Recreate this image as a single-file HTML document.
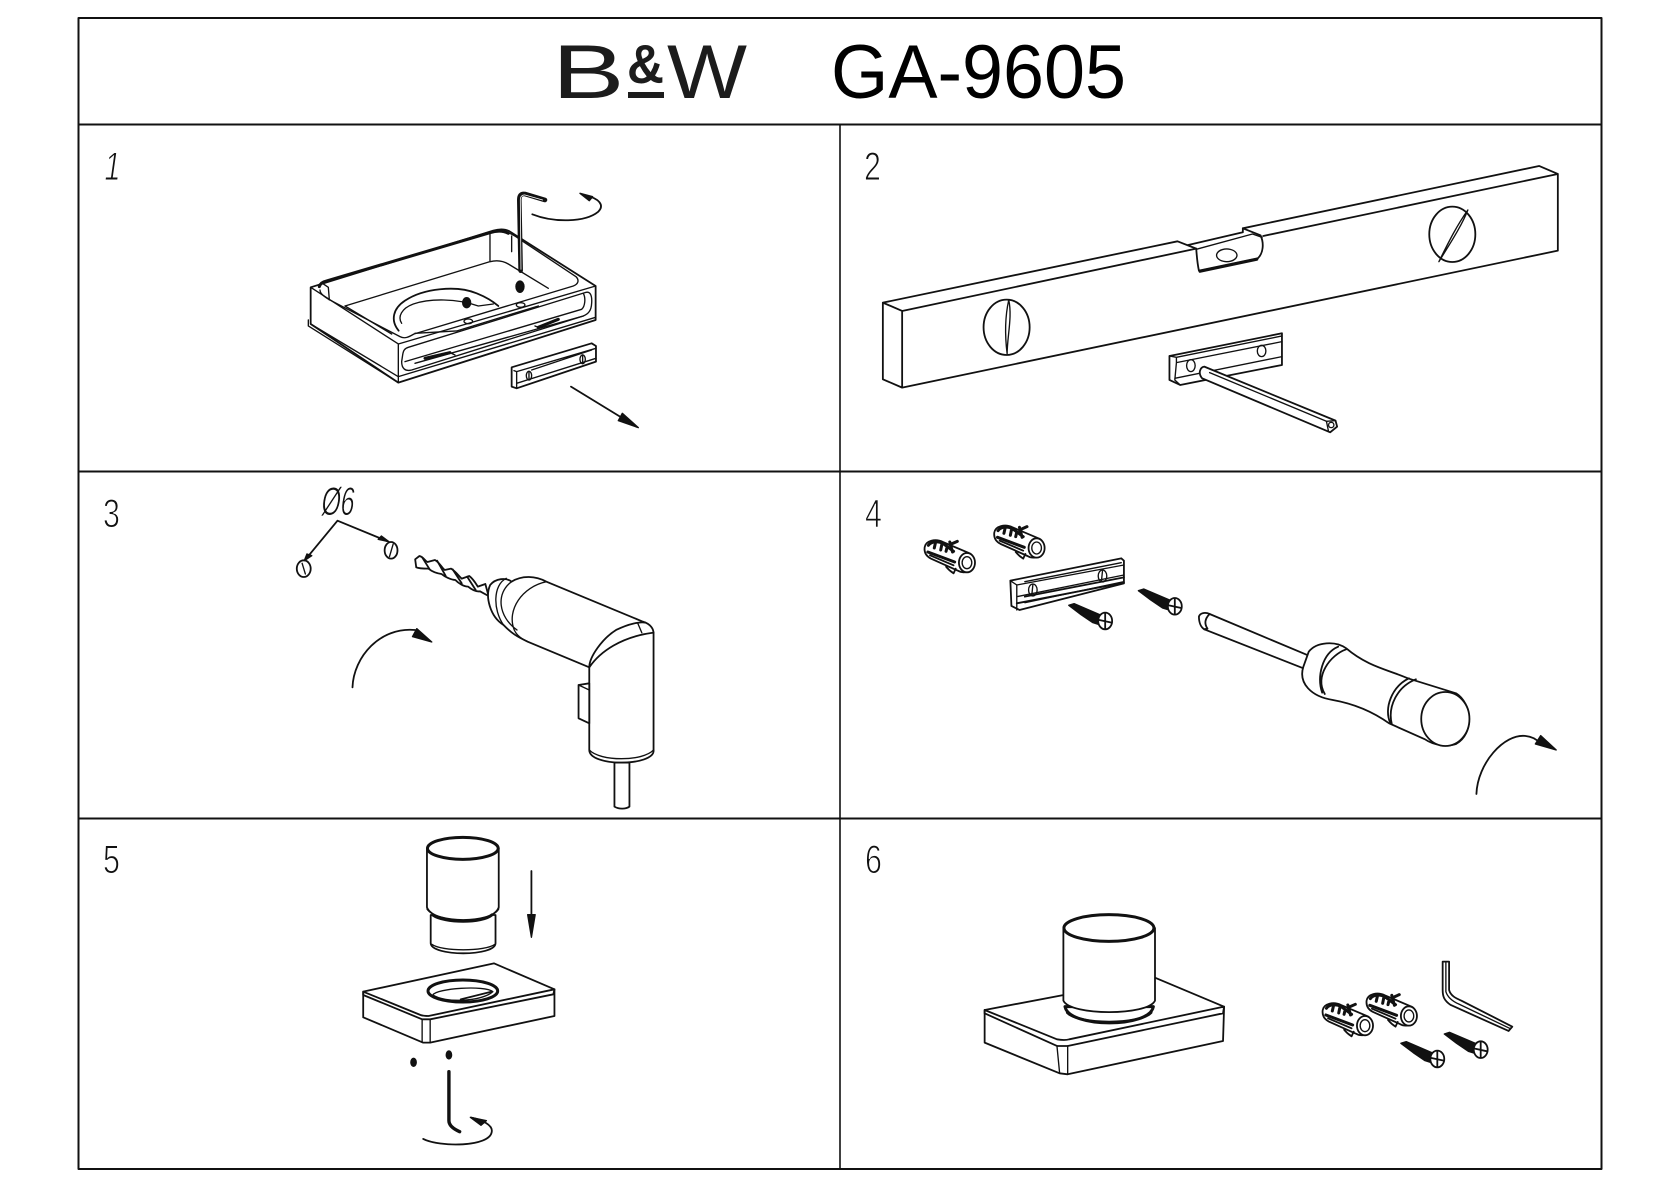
<!DOCTYPE html>
<html><head><meta charset="utf-8"><title>B&amp;W GA-9605</title>
<style>
html,body{margin:0;padding:0;background:#fff}
svg{display:block}
path,line,ellipse,polyline,polygon,rect{vector-effect:non-scaling-stroke;fill:none;stroke:#111;stroke-width:1.35;stroke-linejoin:round;stroke-linecap:round}
.w{fill:#fff}
.k{fill:#111}
.t{stroke-width:3}
.m{stroke-width:1.8}
.f{stroke-width:1.1}
.d{font-family:"Liberation Sans",sans-serif;font-size:40px;fill:#111;stroke:#fff;stroke-width:1.05}
</style></head><body>
<svg xmlns="http://www.w3.org/2000/svg" width="1680" height="1187" viewBox="0 0 1680 1187">
<defs>
<g id="anchor">
<path class="w m" d="M158,232C160,212 178,205 192,216L242,250C255,262 254,298 236,306C230,308 224,306 220,302L170,266C160,258 157,245 158,232Z"/>
<ellipse class="w m" cx="237" cy="278" rx="15" ry="29"/>
<ellipse class="w" cx="237" cy="278" rx="9" ry="18"/>
<path class="t" d="M165,226C170,214 182,212 192,220L212,244M178,220L176,234M190,224L188,240M200,230L198,244M205,216L210,246M205,224L219,214"/>
<path class="t" d="M164,246L214,276"/>
<path class="m" d="M168,256L212,286"/>
<path class="m" d="M198,290C202,298 206,304 212,310L216,296"/>
</g>
<g id="screw">
<polygon class="k" points="427,406 437,401 488,436 488,466 472,458 450,434"/>
<ellipse class="w m" cx="495" cy="453" rx="13" ry="25"/>
<path class="m" d="M495,430L495,476M484,450L507,458"/>
</g>
</defs>

<!-- frame -->
<rect x="78.5" y="18" width="1523" height="1151" style="stroke-width:2"/>
<line x1="78.5" y1="124.5" x2="1601.5" y2="124.5" style="stroke-width:2"/>
<line x1="78.5" y1="471.5" x2="1601.5" y2="471.5" style="stroke-width:2"/>
<line x1="78.5" y1="818.5" x2="1601.5" y2="818.5" style="stroke-width:2"/>
<line x1="840" y1="124.5" x2="840" y2="1169" style="stroke-width:1.6"/>

<!-- title -->
<text transform="translate(552,98) scale(1.43,1)" font-family="Liberation Sans,sans-serif" font-size="76" fill="#1c1c1c">B</text>
<text x="627" y="83" font-family="Liberation Sans,sans-serif" font-weight="700" font-size="55" textLength="37" lengthAdjust="spacingAndGlyphs" fill="#1c1c1c">&amp;</text>
<rect x="628" y="92" width="36" height="6" style="fill:#1c1c1c;stroke:none"/>
<text x="667" y="98" font-family="Liberation Sans,sans-serif" font-size="76" textLength="80" lengthAdjust="spacingAndGlyphs" fill="#1c1c1c">W</text>
<text x="831" y="98" font-family="Liberation Sans,sans-serif" font-size="76" textLength="295" lengthAdjust="spacingAndGlyphs" fill="#000">GA-9605</text>

<!-- step numbers -->
<text class="d" transform="translate(103,180) skewX(-8) scale(.72,1)">1</text>
<text class="d" transform="translate(864,180) scale(.76,1)">2</text>
<text class="d" transform="translate(103,527) scale(.76,1)">3</text>
<text class="d" transform="translate(865,527) scale(.76,1)">4</text>
<text class="d" transform="translate(103,873) scale(.76,1)">5</text>
<text class="d" transform="translate(865,873) scale(.76,1)">6</text>
<text class="d" style="stroke-width:.8;font-size:40px" transform="translate(320,515) skewX(-8) scale(.62,1)">Ø6</text>

<!-- PANEL 1 -->
<g transform="translate(290,180) scale(.3333)">
<path class="w m" d="M62,322L610,152C630,146 645,146 660,155L917,318L917,420L325,608L62,432Z"/>
<path d="M62,322L325,492L917,318M325,492L325,608"/>
<path d="M55,420L55,438L325,608M62,432L325,590L917,412"/>
<path class="t" d="M88,320C90,312 96,306 110,303L600,158C620,152 640,152 655,160"/>
<path d="M90,330C90,340 100,348 116,358L330,470C345,478 358,470 372,462L850,318C866,312 868,300 858,290L700,185C680,172 660,155 640,157"/>
<path d="M100,312L115,322L118,360M165,378L600,245C620,240 640,243 655,252L775,325M165,378L305,462M600,160L600,245M665,168L665,215"/>
<path class="m" d="M326,452C300,420 310,385 345,362C400,325 500,315 560,340C590,352 610,365 625,378"/>
<path d="M335,430C322,410 335,385 370,372C420,355 500,355 565,378L610,372"/>
<path style="stroke-width:4.6" d="M765,60L705,42C692,40 688,48 688,60L692,272"/>
<path style="stroke:#fff;stroke-width:.8" d="M758,60L705,45C696,44 691,50 691,60L693,268"/>
<ellipse class="k" cx="690" cy="320" rx="12" ry="17"/>
<ellipse class="k" cx="530" cy="368" rx="12" ry="15"/>
<ellipse cx="692" cy="375" rx="13" ry="7"/>
<ellipse cx="535" cy="424" rx="13" ry="7"/>
<path d="M338,525C340,510 345,505 355,502L885,338C900,332 907,345 905,370C904,392 895,402 880,408L365,570C345,575 335,565 335,545Z"/>
<path d="M345,545L875,388C885,380 888,355 880,340"/>
<path class="t" d="M405,535L480,518M745,442L805,418"/>
<path d="M375,550L880,408M480,518L495,525M745,442L735,438"/>
<path d="M375,460L500,453L745,378"/>
<polygon class="w m" points="665,562 905,490 918,498 918,545 680,625 665,620"/>
<path d="M672,572L680,575L918,505M680,575L680,625M680,610L918,535M725,570L905,510"/>
<ellipse cx="717" cy="587" rx="8" ry="13"/>
<ellipse cx="878" cy="538" rx="8" ry="13"/>
<path d="M717,574L717,600M878,525L878,551"/>
<line class="m" x1="843" y1="620" x2="1000" y2="716"/>
<polygon class="k" points="1045,743 985,722 997,700"/>
<path class="m" d="M727,103C790,128 885,128 925,95C945,75 925,55 892,48"/>
<polygon class="k" points="870,40 908,50 898,62"/>
</g>

<!-- PANEL 2 -->
<g transform="translate(840,0) scale(.5357,.3333)">
<path class="m" d="M80,908L630,724L665,746M665,746L116,933L80,908L80,1138L116,1163L116,933M116,1163L1340,752L1340,522L790,708M752,685L1305,498L1340,522"/>
<path class="m" d="M650,735L752,697L752,685L785,706C792,730 790,760 780,775L670,812C667,790 666,770 665,746"/>
<path d="M665,748L770,702L788,712"/>
<path class="t" d="M672,814L778,778"/>
<ellipse cx="722" cy="766" rx="19" ry="19" transform="rotate(20 722 766)"/>
<ellipse class="m" cx="311" cy="982" rx="43" ry="83"/>
<path d="M315,900C322,950 312,1010 312,1062C308,1010 308,950 315,900Z"/>
<ellipse class="m" cx="1143" cy="703" rx="43" ry="83"/>
<path d="M1172,630C1160,680 1135,740 1118,785C1135,730 1150,680 1172,630Z"/>
<path class="w m" d="M615,1068L825,1000L825,1095L635,1155L615,1140Z"/>
<path d="M628,1072L628,1088L825,1025M615,1068L628,1072L825,1008M625,1135L825,1070M628,1088L625,1140L635,1155"/>
<ellipse cx="655" cy="1097" rx="8" ry="18"/>
<ellipse cx="787" cy="1053" rx="8" ry="17"/>
<path class="w m" d="M680,1100L925,1262L928,1280L915,1297L676,1135C668,1120 672,1102 680,1100Z"/>
<path d="M690,1118L908,1264L912,1295"/>
<path d="M908,1264L925,1262"/>
<ellipse cx="917" cy="1275" rx="5" ry="8"/>
</g>

<!-- PANEL 3 -->
<g transform="translate(0,470) scale(.5357,.3333)">
<path class="m" d="M572,265L630,152L722,213"/>
<polygon class="k" points="568,272 573,252 582,257"/>
<polygon class="k" points="726,215 706,208 712,198"/>
<ellipse class="m" cx="567" cy="296" rx="13" ry="25"/>
<ellipse class="m" cx="730" cy="241" rx="12" ry="25"/>
<path d="M564,280L570,312M734,222L727,260"/>
<path class="w m" d="M775,268L783,258C792,262 792,272 798,276L812,270C822,280 824,292 830,300L842,296C852,306 856,318 862,326L876,318C884,328 888,340 892,350L906,342L912,378L896,364C888,366 880,358 874,350C866,350 856,340 850,330C842,330 830,320 824,312C816,310 806,304 800,296C792,296 782,296 777,292Z"/>
<path class="m" d="M788,262L802,298M816,272L832,318M845,298L862,340M872,320L888,360"/>
<path class="w m" d="M915,345C925,325 945,322 955,335C975,315 1000,318 1020,335L1200,455C1215,462 1220,478 1220,490L1220,840C1222,865 1190,878 1160,878C1130,878 1100,865 1100,840L1100,592L985,515C965,500 955,490 940,465C915,440 905,380 915,345Z"/>
<path d="M955,335C925,370 930,440 965,480M1020,335C975,350 945,420 960,480C965,498 975,508 985,515M945,325C920,345 920,420 940,465"/>
<path class="m" d="M1100,592C1100,560 1125,505 1150,480C1175,460 1195,455 1205,458M1100,592C1120,545 1160,500 1220,488"/>
<path d="M1190,458L1198,488M1220,840C1200,875 1120,875 1100,840"/>
<path class="w m" d="M1100,640L1080,645L1080,745L1100,760Z"/>
<path d="M1080,645L1100,660"/>
<path class="w m" d="M1147,878L1147,1010C1155,1018 1168,1018 1175,1010L1175,878Z"/>
<path class="m" d="M658,652C660,560 710,470 775,480"/>
<polygon class="k" points="806,516 770,500 778,476"/>
</g>

<!-- PANEL 4 -->
<g transform="translate(840,470) scale(.5357,.3333)">
<use href="#anchor"/>
<use href="#anchor" transform="translate(130,-44)"/>
<polygon class="w m" points="318,332 525,265 530,272 530,340 335,420 320,408"/>
<path d="M318,332L330,345L530,285M330,345L330,420M330,380L530,315M345,398L530,335M345,335L525,278"/>
<path class="m" d="M345,380L530,322M330,400L530,338"/>
<ellipse cx="360" cy="360" rx="8" ry="18"/>
<ellipse cx="490" cy="318" rx="8" ry="18"/>
<path d="M360,345L358,376M490,303L488,334"/>
<use href="#screw"/>
<use href="#screw" transform="translate(130,-44)"/>
<path class="m" d="M690,432L872,555M680,478L865,595"/>
<path class="w m" d="M690,432C682,426 672,428 670,440C670,458 674,472 680,478L686,476C680,462 680,448 690,432Z"/>
<path class="w m" d="M875,545C890,515 925,512 945,535C985,590 1025,600 1060,625L1150,670C1180,700 1185,790 1150,822C1135,830 1110,828 1092,808L1025,760C990,720 955,700 920,690C880,680 855,640 865,590Z"/>
<path class="m" d="M945,538C915,555 885,620 905,672M930,530C900,550 890,620 900,668"/>
<path class="m" d="M1062,625C1030,650 1015,715 1027,758M1075,628C1040,650 1022,710 1030,762"/>
<ellipse class="w m" cx="1130" cy="747" rx="45" ry="81"/>
<path class="m" d="M1188,972C1190,880 1240,790 1280,798C1292,800 1300,808 1306,818"/>
<polygon class="k" points="1337,840 1298,822 1308,797"/>
</g>

<!-- PANEL 5 -->
<g transform="translate(0,810) scale(.5357,.3333)">
<path class="w m" d="M804,315L804,400C806,440 924,440 925,400L925,315Z"/>
<path d="M806,403C825,425 905,425 924,403"/>
<path class="w m" d="M797,115L797,292C810,345 920,345 931,292L931,115Z"/>
<path d="M797,297C815,340 915,340 931,297"/>
<path class="t" d="M808,315C830,340 900,340 918,315"/>
<ellipse class="w t" cx="864" cy="115" rx="66" ry="33"/>
<line class="m" x1="992" y1="183" x2="992" y2="320"/>
<polygon class="k" points="992,382 985,314 999,314"/>
<path class="w m" d="M678,545L922,460L1035,538L1035,618L803,698L790,698L678,622Z"/>
<path class="m" d="M678,545L678,555L788,628L803,628L1033,553L1035,538L800,618C795,618 790,618 785,615Z"/>
<path d="M788,628L788,695M803,628L803,698"/>
<ellipse class="w t" cx="864" cy="543" rx="65" ry="33"/>
<path d="M808,555C815,535 905,525 920,545M808,555C830,580 900,575 920,545"/>
<path class="m" d="M860,568L918,545"/>
<ellipse class="k" cx="772" cy="757" rx="5" ry="12"/>
<ellipse class="k" cx="838" cy="735" rx="5" ry="12"/>
<path class="t" style="stroke-width:3.4" d="M838,785L838,932C838,948 848,958 858,965"/>
<path class="m" d="M790,987C820,1012 915,1012 918,965C920,945 900,930 880,923"/>
<polygon class="k" points="878,922 908,932 898,946"/>
</g>

<!-- PANEL 6 -->
<g transform="translate(840,810) scale(.5357,.3333)">
<path class="w m" d="M270,600L588,503L717,590L715,693L425,793L410,790L270,698Z"/>
<path class="m" d="M270,600L270,610L405,708L425,708L715,610L717,590L428,688C420,692 412,690 405,688Z"/>
<path d="M405,708L410,790M425,708L425,793"/>
<path class="w t" d="M420,590C428,655 578,655 585,590Z"/>
<path class="t" style="stroke-width:2.4" d="M424,608C445,645 560,645 581,608"/>
<path class="w m" d="M417,354L417,572C430,618 575,618 588,572L588,354Z"/>
<ellipse class="w t" cx="502" cy="354" rx="84" ry="40"/>
<use href="#anchor" transform="translate(743,369)"/>
<use href="#anchor" transform="translate(825,340)"/>
<use href="#screw" transform="translate(620,294)"/>
<use href="#screw" transform="translate(701,266)"/>
<path class="w m" d="M1125,455L1137,455L1137,540C1140,558 1150,565 1160,572L1255,650L1248,663L1140,585C1128,572 1125,560 1125,540Z"/>
<path d="M1131,455L1131,545C1135,565 1145,575 1155,582L1250,655"/>
</g>
</svg>
</body></html>
